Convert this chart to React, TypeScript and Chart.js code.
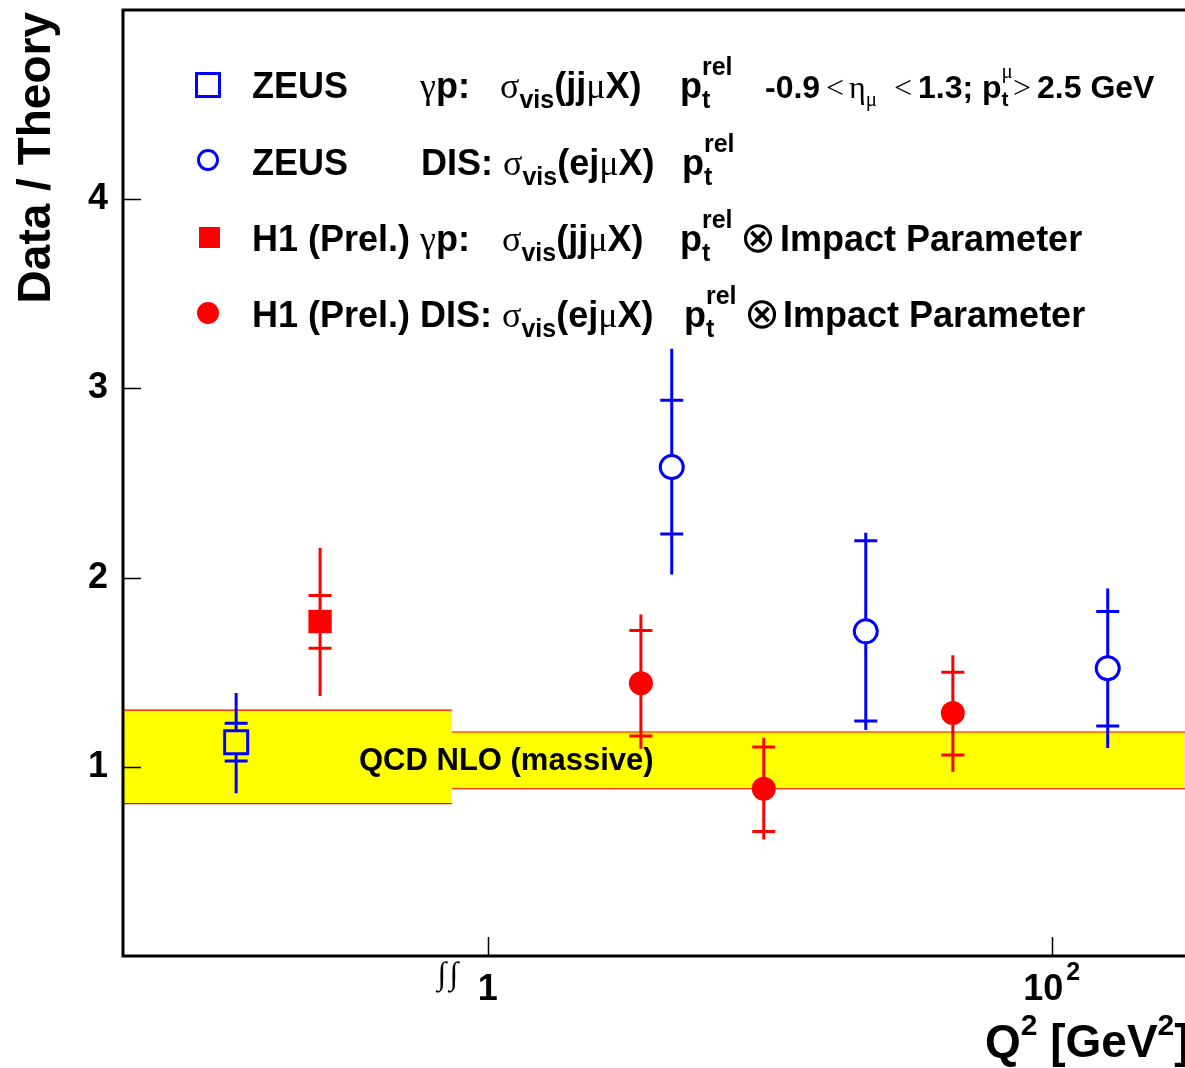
import React, { useEffect, useRef } from 'react';
import { Chart, registerables } from 'chart.js';

Chart.register(...registerables);

// ---------- axis ranges & ticks ----------
const xMin = 0.0508;
const xMax = 297;
const yMin = 0;
const yMax = 5;
const yTicks = [1, 2, 3, 4];
const xTicks = [1, 100];
const xTickBase = ['1', '10'];
const xTickExp = ['', '2'];

// ---------- ZEUS photoproduction (open square) ----------
const zeusGpQ2 = [0.128];
const zeusGpRatio = [1.13];
const zeusGpStatLo = [1.03];
const zeusGpStatHi = [1.23];
const zeusGpTotLo = [0.86];
const zeusGpTotHi = [1.39];

// ---------- H1 photoproduction (filled square) ----------
const h1GpQ2 = [0.254];
const h1GpRatio = [1.768];
const h1GpStatLo = [1.626];
const h1GpStatHi = [1.905];
const h1GpTotLo = [1.374];
const h1GpTotHi = [2.158];

// ---------- ZEUS DIS (open circle) ----------
const zeusDisQ2 = [4.49, 21.9, 158];
const zeusDisRatio = [2.584, 1.716, 1.521];
const zeusDisStatLo = [2.23, 1.242, 1.216];
const zeusDisStatHi = [2.937, 2.195, 1.821];
const zeusDisTotLo = [2.016, 1.195, 1.1];
const zeusDisTotHi = [3.21, 2.237, 1.942];

// ---------- H1 DIS (filled circle) ----------
const h1DisQ2 = [3.49, 9.52, 44.6];
const h1DisRatio = [1.442, 0.884, 1.284];
const h1DisStatLo = [1.163, 0.658, 1.063];
const h1DisStatHi = [1.721, 1.105, 1.5];
const h1DisTotLo = [1.095, 0.616, 0.974];
const h1DisTotHi = [1.805, 1.153, 1.589];

// ---------- QCD NLO (massive) uncertainty band ----------
const bandFrom = [xMin, 0.745];
const bandTo = [0.745, xMax];
const bandLo = [0.805, 0.884];
const bandHi = [1.3, 1.184];

const BLUE = '#0000ff';
const RED = '#ff0000';
const YELLOW = '#ffff00';

const SANS = '"Liberation Sans", Arial, Helvetica, sans-serif';
const SERIF = '"Liberation Serif", "Times New Roman", serif';
const B36 = `bold 36px ${SANS}`;
const S36 = `36px ${SERIF}`;
const B25 = `bold 25px ${SANS}`;
const B32 = `bold 32px ${SANS}`;
const S32 = `32px ${SERIF}`;
const S21 = `21px ${SERIF}`;
const B21 = `bold 21px ${SANS}`;
const OTIMES = `43px "DejaVu Sans", sans-serif`;

type Series = {
  q2: number[]; r: number[]; sLo: number[]; sHi: number[]; tLo: number[]; tHi: number[];
  color: string; gap: number;
};

const SERIES: Series[] = [
  { q2: zeusGpQ2, r: zeusGpRatio, sLo: zeusGpStatLo, sHi: zeusGpStatHi, tLo: zeusGpTotLo, tHi: zeusGpTotHi, color: BLUE, gap: 12 },
  { q2: h1GpQ2, r: h1GpRatio, sLo: h1GpStatLo, sHi: h1GpStatHi, tLo: h1GpTotLo, tHi: h1GpTotHi, color: RED, gap: 0 },
  { q2: zeusDisQ2, r: zeusDisRatio, sLo: zeusDisStatLo, sHi: zeusDisStatHi, tLo: zeusDisTotLo, tHi: zeusDisTotHi, color: BLUE, gap: 12 },
  { q2: h1DisQ2, r: h1DisRatio, sLo: h1DisStatLo, sHi: h1DisStatHi, tLo: h1DisTotLo, tHi: h1DisTotHi, color: RED, gap: 0 },
];

type Run = { t: string; f: string; dy?: number; x?: number; keep?: boolean };

function drawRuns(ctx: CanvasRenderingContext2D, base: number, runs: Run[]) {
  let x = 0;
  for (const r of runs) {
    if (r.x !== undefined) x = r.x;
    ctx.font = r.f;
    ctx.fillText(r.t, x, base + (r.dy || 0));
    if (!r.keep) x += ctx.measureText(r.t).width;
  }
}

const ptRel = (x: number): Run[] => [
  { t: 'p', f: B36, x },
  { t: 'rel', f: B25, dy: -23, keep: true },
  { t: 't', f: B25, dy: 10 },
];

const LEGEND_ROWS: { base: number; runs: Run[] }[] = [
  {
    base: 98,
    runs: [
      { t: 'ZEUS', f: B36, x: 252 },
      { t: 'γ', f: S36, x: 420 }, { t: 'p:', f: B36 },
      { t: 'σ', f: S36, x: 500 }, { t: 'vis', f: B25, dy: 10 }, { t: '(jj', f: B36 }, { t: 'μ', f: S36 }, { t: 'X)', f: B36 },
      ...ptRel(680),
      { t: '-0.9', f: B32, x: 765 }, { t: '<', f: S32, x: 826 }, { t: 'η', f: S32, x: 849 }, { t: 'μ', f: S21, dy: 8 },
      { t: '<', f: S32, x: 894 }, { t: '1.3; p', f: B32, x: 918 }, { t: 'μ', f: S21, dy: -20, keep: true }, { t: 't', f: B21, dy: 8 },
      { t: '>', f: S32, x: 1013 }, { t: '2.5 GeV', f: B32, x: 1037 },
    ],
  },
  {
    base: 175,
    runs: [
      { t: 'ZEUS', f: B36, x: 252 },
      { t: 'DIS: ', f: B36, x: 421 }, { t: 'σ', f: S36 }, { t: 'vis', f: B25, dy: 10 }, { t: '(ej', f: B36 }, { t: 'μ', f: S36 }, { t: 'X)', f: B36 },
      ...ptRel(682),
    ],
  },
  {
    base: 251,
    runs: [
      { t: 'H1 (Prel.) ', f: B36, x: 252 }, { t: 'γ', f: S36 }, { t: 'p:', f: B36 },
      { t: 'σ', f: S36, x: 502 }, { t: 'vis', f: B25, dy: 10 }, { t: '(jj', f: B36 }, { t: 'μ', f: S36 }, { t: 'X)', f: B36 },
      ...ptRel(680),
      { t: '⊗', f: OTIMES, x: 740, dy: 1 }, { t: 'Impact Parameter', f: B36, x: 780 },
    ],
  },
  {
    base: 327,
    runs: [
      { t: 'H1 (Prel.) DIS: ', f: B36, x: 252 }, { t: 'σ', f: S36 }, { t: 'vis', f: B25, dy: 10 }, { t: '(ej', f: B36 }, { t: 'μ', f: S36 }, { t: 'X)', f: B36 },
      ...ptRel(684),
      { t: '⊗', f: OTIMES, x: 744, dy: 1 }, { t: 'Impact Parameter', f: B36, x: 783 },
    ],
  },
];

const overlayPlugin = {
  id: 'overlay',
  beforeDatasetsDraw(chart: any) {
    const { ctx, chartArea, scales } = chart;
    const xs = scales.x;
    const ys = scales.y;
    ctx.save();
    // band
    for (let i = 0; i < bandFrom.length; i++) {
      const x0 = Math.max(xs.getPixelForValue(bandFrom[i]), chartArea.left);
      const x1 = Math.min(xs.getPixelForValue(bandTo[i]), chartArea.right);
      const yt = ys.getPixelForValue(bandHi[i]);
      const yb = ys.getPixelForValue(bandLo[i]);
      ctx.fillStyle = YELLOW;
      ctx.fillRect(x0, yt, x1 - x0, yb - yt);
      ctx.strokeStyle = RED;
      ctx.lineWidth = 1.2;
      ctx.beginPath();
      ctx.moveTo(x0, yt); ctx.lineTo(x1, yt);
      ctx.moveTo(x0, yb); ctx.lineTo(x1, yb);
      ctx.stroke();
    }
    // band label
    ctx.fillStyle = '#000';
    ctx.font = `bold 31px ${SANS}`;
    ctx.textAlign = 'left';
    ctx.textBaseline = 'alphabetic';
    ctx.fillText('QCD NLO (massive)', 359, 770);

    // error bars
    ctx.lineWidth = 3;
    ctx.lineCap = 'butt';
    for (const s of SERIES) {
      ctx.strokeStyle = s.color;
      s.q2.forEach((q, i) => {
        const px = xs.getPixelForValue(q);
        const pc = ys.getPixelForValue(s.r[i]);
        const pTop = ys.getPixelForValue(s.tHi[i]);
        const pBot = ys.getPixelForValue(s.tLo[i]);
        const sh = ys.getPixelForValue(s.sHi[i]);
        const sl = ys.getPixelForValue(s.sLo[i]);
        ctx.beginPath();
        ctx.moveTo(px, pTop); ctx.lineTo(px, pc - s.gap);
        ctx.moveTo(px, pc + s.gap); ctx.lineTo(px, pBot);
        ctx.moveTo(px - 11.5, sh); ctx.lineTo(px + 11.5, sh);
        ctx.moveTo(px - 11.5, sl); ctx.lineTo(px + 11.5, sl);
        ctx.stroke();
      });
    }
    ctx.restore();
  },
  afterDraw(chart: any) {
    const { ctx, chartArea, scales } = chart;
    const xs = scales.x;
    const ys = scales.y;
    const { left, right, top, bottom } = chartArea;
    ctx.save();
    // frame
    ctx.strokeStyle = '#000';
    ctx.lineWidth = 3;
    ctx.beginPath();
    ctx.moveTo(right + 2, top);
    ctx.lineTo(left, top);
    ctx.lineTo(left, bottom);
    ctx.lineTo(right + 2, bottom);
    ctx.stroke();

    // tick marks
    ctx.lineWidth = 1.5;
    ctx.beginPath();
    for (const v of yTicks) {
      const py = Math.round(ys.getPixelForValue(v)) + 0.5;
      ctx.moveTo(left, py); ctx.lineTo(left + 18, py);
    }
    for (const v of xTicks) {
      const px = Math.round(xs.getPixelForValue(v)) + 0.5;
      ctx.moveTo(px, bottom); ctx.lineTo(px, bottom - 19);
    }
    ctx.stroke();

    // x tick labels
    ctx.fillStyle = '#000';
    ctx.textBaseline = 'alphabetic';
    ctx.textAlign = 'left';
    xTicks.forEach((v, i) => {
      const px = xs.getPixelForValue(v);
      ctx.font = B36;
      const wb = ctx.measureText(xTickBase[i]).width;
      ctx.font = B25;
      const we = xTickExp[i] ? ctx.measureText(xTickExp[i]).width + 3 : 0;
      const x0 = px - (wb + we) / 2;
      ctx.font = B36;
      ctx.fillText(xTickBase[i], x0, 1000);
      if (xTickExp[i]) {
        ctx.font = B25;
        ctx.fillText(xTickExp[i], x0 + wb + 3, 980);
      }
    });

    // axis break symbol
    ctx.font = `32px ${SERIF}`;
    ctx.textAlign = 'center';
    ctx.fillText('∫', 442, 984);
    ctx.fillText('∫', 454, 984);

    // x title
    ctx.textAlign = 'left';
    drawRuns(ctx, 1057, [
      { t: 'Q', f: `bold 46px ${SANS}`, x: 985 },
      { t: '2', f: `bold 30px ${SANS}`, dy: -22 },
      { t: ' [GeV', f: `bold 46px ${SANS}` },
      { t: '2', f: `bold 30px ${SANS}`, dy: -22 },
      { t: ']', f: `bold 46px ${SANS}` },
    ]);

    // y title
    ctx.save();
    ctx.translate(50, 12);
    ctx.rotate(-Math.PI / 2);
    ctx.textAlign = 'right';
    ctx.font = `bold 46px ${SANS}`;
    ctx.fillText('Data / Theory', 0, 0);
    ctx.restore();

    // legend markers
    ctx.lineWidth = 3;
    ctx.strokeStyle = BLUE;
    ctx.strokeRect(208 - 11.5, 85 - 11.5, 23, 23);
    ctx.beginPath();
    ctx.arc(208, 160, 9.5, 0, Math.PI * 2);
    ctx.stroke();
    ctx.fillStyle = RED;
    ctx.fillRect(199, 227, 21, 21);
    ctx.beginPath();
    ctx.arc(208, 313, 11, 0, Math.PI * 2);
    ctx.fill();

    // legend text
    ctx.fillStyle = '#000';
    ctx.textAlign = 'left';
    for (const row of LEGEND_ROWS) drawRuns(ctx, row.base, row.runs);
    ctx.restore();
  },
};

export default function App() {
  const ref = useRef<HTMLCanvasElement>(null);
  useEffect(() => {
    if (!ref.current) return;
    const chart = new Chart(ref.current, {
      type: 'scatter',
      data: {
        datasets: [
          {
            label: 'ZEUS γp',
            data: zeusGpQ2.map((x, i) => ({ x, y: zeusGpRatio[i] })),
            pointStyle: 'rect',
            pointRadius: 16.3,
            pointHoverRadius: 16.3,
            pointBorderWidth: 3,
            borderColor: BLUE,
            backgroundColor: 'rgba(0,0,0,0)',
          },
          {
            label: 'H1 (Prel.) γp',
            data: h1GpQ2.map((x, i) => ({ x, y: h1GpRatio[i] })),
            pointStyle: 'rect',
            pointRadius: 16.5,
            pointHoverRadius: 16.5,
            pointBorderWidth: 0,
            borderColor: RED,
            backgroundColor: RED,
          },
          {
            label: 'ZEUS DIS',
            data: zeusDisQ2.map((x, i) => ({ x, y: zeusDisRatio[i] })),
            pointStyle: 'circle',
            pointRadius: 11.5,
            pointHoverRadius: 11.5,
            pointBorderWidth: 3,
            borderColor: BLUE,
            backgroundColor: 'rgba(0,0,0,0)',
          },
          {
            label: 'H1 (Prel.) DIS',
            data: h1DisQ2.map((x, i) => ({ x, y: h1DisRatio[i] })),
            pointStyle: 'circle',
            pointRadius: 12,
            pointHoverRadius: 12,
            pointBorderWidth: 0,
            borderColor: RED,
            backgroundColor: RED,
          },
        ],
      },
      options: {
        animation: false,
        responsive: false,
        devicePixelRatio: 1,
        events: [],
        layout: { autoPadding: false, padding: { top: 10, left: 0, right: 0, bottom: 0 } },
        plugins: { legend: { display: false }, tooltip: { enabled: false }, title: { display: false } },
        scales: {
          x: {
            type: 'logarithmic',
            min: xMin,
            max: xMax,
            afterBuildTicks: (s: any) => { s.ticks = xTicks.map((v) => ({ value: v })); },
            afterFit: (s: any) => { s.height = 112; s.paddingLeft = 0; s.paddingRight = 0; },
            grid: { display: false, drawTicks: false },
            border: { display: false },
            ticks: { display: false },
          },
          y: {
            type: 'linear',
            min: yMin,
            max: yMax,
            afterBuildTicks: (s: any) => { s.ticks = yTicks.map((v) => ({ value: v })); },
            afterFit: (s: any) => { s.width = 123; s.paddingTop = 0; s.paddingBottom = 0; },
            grid: { display: false, drawTicks: false },
            border: { display: false },
            ticks: {
              color: '#000',
              padding: 15,
              font: { family: SANS, weight: 'bold', size: 36 },
              callback: (v: any) => String(v),
            },
          },
        },
      },
      plugins: [overlayPlugin],
    } as any);
    return () => chart.destroy();
  }, []);
  return (
    <div style={{ position: 'absolute', left: 0, top: 0, width: 1185, height: 1068, background: '#fff' }}>
      <canvas ref={ref} width={1185} height={1068} style={{ display: 'block', width: 1185, height: 1068 }} />
    </div>
  );
}
